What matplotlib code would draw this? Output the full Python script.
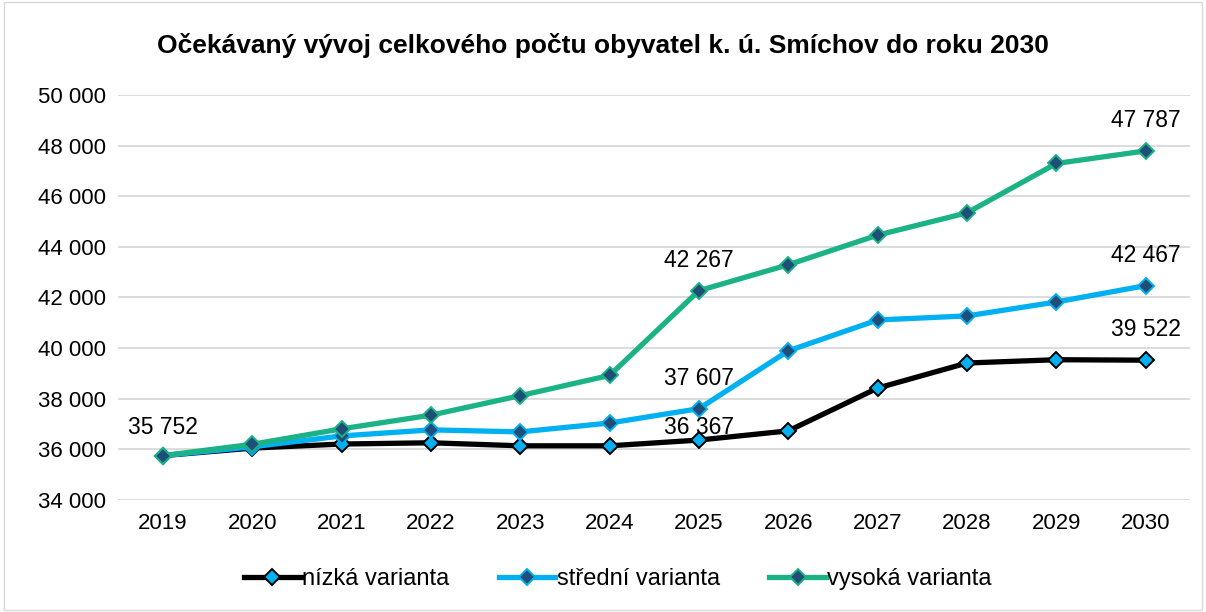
import matplotlib
matplotlib.use("Agg")
import matplotlib.pyplot as plt
from matplotlib.ticker import FuncFormatter, MultipleLocator
from matplotlib.patches import Rectangle

plt.rcParams['font.family'] = ['Liberation Sans', 'DejaVu Sans']

years = [2019, 2020, 2021, 2022, 2023, 2024, 2025, 2026, 2027, 2028, 2029, 2030]
nizka = [35752, 36050, 36210, 36260, 36140, 36140, 36367, 36730, 38420, 39410, 39540, 39522]
stredni = [35752, 36100, 36530, 36770, 36690, 37040, 37607, 39890, 41110, 41270, 41820, 42467]
vysoka = [35752, 36200, 36810, 37350, 38120, 38920, 42267, 43290, 44460, 45340, 47290, 47787]

# (series, index, offset in points) for the value labels
labelled = [("nizka", 6, 9), ("nizka", 11, 22), ("stredni", 6, 22), ("stredni", 11, 22),
            ("vysoka", 0, 20), ("vysoka", 6, 22), ("vysoka", 11, 22)]

series = {
    "nizka": (nizka, "nízká varianta", "#000000", "#00B0F0", "#000000"),
    "stredni": (stredni, "střední varianta", "#00B0F0", "#1F4E79", "#00B0F0"),
    "vysoka": (vysoka, "vysoká varianta", "#1BB385", "#1F4E79", "#1BB385"),
}

fig = plt.figure(figsize=(12.06, 6.12), dpi=100)
ax = fig.add_axes([0.098, 0.183, 0.889, 0.662])

x = list(range(len(years)))
for key in ["nizka", "stredni", "vysoka"]:
    vals, name, lc, mfc, mec = series[key]
    ax.plot(x, vals, color=lc, lw=3.8, marker="D", ms=8, mfc=mfc,
            mec=mec, mew=1.4, label=name, zorder=3)

for key, i, off in labelled:
    vals = series[key][0]
    ax.annotate(f"{vals[i]:,}".replace(",", " "), (x[i], vals[i]),
                xytext=(0, off), textcoords="offset points", ha="center",
                va="center", fontsize=16.5, zorder=5)

ax.set_xlim(-0.5, len(years) - 0.5)
ax.set_ylim(34000, 50000)
ax.yaxis.set_major_locator(MultipleLocator(2000))
ax.yaxis.set_major_formatter(FuncFormatter(lambda v, p: f"{int(v):,}".replace(",", " ")))
ax.set_xticks(x)
ax.set_xticklabels([str(y) for y in years])
ax.tick_params(axis="both", length=0, labelsize=16, pad=9)
ax.grid(axis="y", color="#D9D9D9", lw=1.3, zorder=0)
for s in ax.spines.values():
    s.set_visible(False)

fig.text(0.5, 0.925, "Očekávaný vývoj celkového počtu obyvatel k. ú. Smíchov do roku 2030",
         ha="center", va="center", fontsize=19, fontweight="bold")

ax.legend(loc="center", bbox_to_anchor=(0.466, -0.195), ncol=3, frameon=False,
          fontsize=17, handlelength=2.4, handletextpad=0.05, columnspacing=2.1)

fig.patches.append(Rectangle((0.003, 0.003), 0.994, 0.994, transform=fig.transFigure,
                             fill=False, edgecolor="#D9D9D9", lw=1))

fig.savefig("out.png", dpi=100)
